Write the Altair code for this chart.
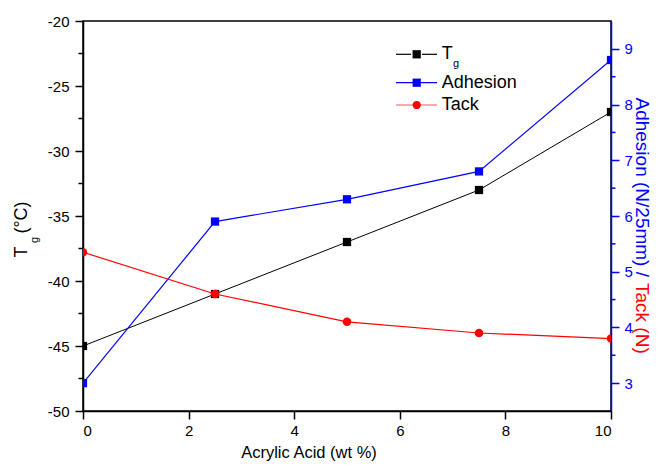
import altair as alt
import pandas as pd

# ---- data ----
acrylic = [0, 2.5, 5, 7.5, 10]
tg = [-45, -41, -37, -33, -27]
adhesion = [3.0, 5.9, 6.3, 6.8, 8.8]
tack = [5.35, 4.6, 4.1, 3.9, 3.8]

x_ticks = [0, 2, 4, 6, 8, 10]
tg_ticks = [-50, -45, -40, -35, -30, -25, -20]
tg_minor = [-47.5, -42.5, -37.5, -32.5, -27.5, -22.5]
r_ticks = [3, 4, 5, 6, 7, 8, 9]
r_minor = [3.5, 4.5, 5.5, 6.5, 7.5, 8.5]

legend_labels = ["T", "Adhesion", "Tack"]

W, H = 528, 390
FONT = "Liberation Sans"
BLUE = "#0000ff"
RED = "#ff0000"
LBL = 15

df = pd.DataFrame({"x": acrylic, "tg": tg, "adh": adhesion, "tack": tack})

xscale = alt.Scale(domain=[0, 10], nice=False, zero=False)
lscale = alt.Scale(domain=[-50, -20], nice=False, zero=False)
rscale = alt.Scale(domain=[2.5, 9.5], nice=False, zero=False)

xaxis = alt.Axis(values=x_ticks, title="", orient="bottom", tickSize=8, tickWidth=1.5,
                 tickColor="black", domainColor="black", domainWidth=1.5, labelColor="black",
                 labelFontSize=LBL, labelFont=FONT, labelPadding=4, grid=False,
                 labelExpr="'' + datum.value")
laxis = alt.Axis(values=tg_ticks, title="", orient="left", tickSize=8, tickWidth=1.5,
                 tickColor="black", domainColor="black", domainWidth=1.5, labelColor="black",
                 labelFontSize=LBL, labelFont=FONT, labelPadding=6, grid=False,
                 labelExpr="'' + datum.value")
raxis = alt.Axis(values=r_ticks, title="", orient="right", tickSize=8, tickWidth=1.5,
                 tickColor=BLUE, domainColor=BLUE, domainWidth=1.5, labelColor=BLUE,
                 labelFontSize=LBL, labelFont=FONT, labelPadding=5, grid=False,
                 labelExpr="'' + datum.value")

X = lambda f: alt.X(f, scale=xscale, axis=xaxis)
YL = lambda f: alt.Y(f, scale=lscale, axis=laxis)
YR = lambda f: alt.Y(f, scale=rscale, axis=raxis)

base = alt.Chart(df)

tg_line = base.mark_line(color="black", strokeWidth=1, clip=True).encode(x=X("x:Q"), y=YL("tg:Q"))
tg_pts = base.mark_point(shape="square", filled=True, size=68, color="black", opacity=1,
                         clip=True).encode(x=X("x:Q"), y=YL("tg:Q"))

adh_line = base.mark_line(color=BLUE, strokeWidth=1.2, clip=True).encode(x=X("x:Q"), y=YR("adh:Q"))
adh_pts = base.mark_point(shape="square", filled=True, size=68, color=BLUE, opacity=1,
                          clip=True).encode(x=X("x:Q"), y=YR("adh:Q"))
tack_line = base.mark_line(color=RED, strokeWidth=1.2, clip=True).encode(x=X("x:Q"), y=YR("tack:Q"))
tack_pts = base.mark_point(shape="circle", filled=True, size=72, color=RED, opacity=1,
                           clip=True).encode(x=X("x:Q"), y=YR("tack:Q"))

# minor ticks (left and right axes only)
lm = alt.Chart(pd.DataFrame({"v": tg_minor})).mark_rule(color="black", strokeWidth=1.5).encode(
    y=YL("v:Q"), x=alt.value(-4.5), x2=alt.value(0))
rm = alt.Chart(pd.DataFrame({"v": r_minor})).mark_rule(color=BLUE, strokeWidth=1.5).encode(
    y=YR("v:Q"), x=alt.value(W), x2=alt.value(W + 4.5))


def txt(s, x, y, size, color="black", angle=0, align="center", baseline="middle"):
    return alt.Chart(pd.DataFrame({"t": [s]})).mark_text(
        angle=angle, align=align, baseline=baseline, fontSize=size, color=color, font=FONT
    ).encode(x=alt.value(x), y=alt.value(y), text="t:N")


def seg(x1, x2, y, color):
    return alt.Chart(pd.DataFrame({"t": [0]})).mark_rule(color=color, strokeWidth=1.2).encode(
        x=alt.value(x1), x2=alt.value(x2), y=alt.value(y))


def sym(x, y, shape, color):
    return alt.Chart(pd.DataFrame({"t": [0]})).mark_point(
        shape=shape, filled=True, size=68, color=color, opacity=1).encode(x=alt.value(x), y=alt.value(y))


texts = [
    # x title
    txt("Acrylic Acid (wt %)", 226, 432, 16.5),
    # left title T_g (°C)
    txt("T", -61, 231, 18, angle=270),
    txt("g", -48.5, 219, 11, angle=270),
    txt("(°C)", -61, 196.5, 18, angle=270),
    # right title (two colours, joined at y=257)
    txt("Adhesion (N/25mm) /", 559, 256, 19, color=BLUE, angle=90, align="right"),
    txt("Tack (N)", 559, 262, 19, color=RED, angle=90, align="left"),
    # legend
    seg(313, 328, 33.3, "black"), seg(339, 354, 33.3, "black"), sym(333.7, 33.3, "square", "black"),
    txt(legend_labels[0], 358.7, 33.3, 18, align="left"),
    txt("g", 370, 43, 11, align="left"),
    seg(313, 354, 61.7, BLUE), sym(333.7, 61.7, "square", BLUE),
    txt(legend_labels[1], 358.7, 61.7, 18, align="left"),
    seg(313, 354, 84, "#ff5555"), sym(333.7, 84, "circle", RED),
    txt(legend_labels[2], 358.7, 84, 18, align="left"),
]

left = alt.layer(tg_line, tg_pts, lm, *texts)
right = alt.layer(adh_line, tack_line, adh_pts, tack_pts, rm)

chart = alt.layer(left, right).resolve_scale(y="independent").properties(
    width=W, height=H,
    padding={"left": 75, "top": 13, "right": 43, "bottom": 54},
    autosize=alt.AutoSizeParams(type="none"),
).configure_view(stroke="black", strokeWidth=1.5)

chart.save("out.html", embed_options={"renderer": "svg", "actions": False})
